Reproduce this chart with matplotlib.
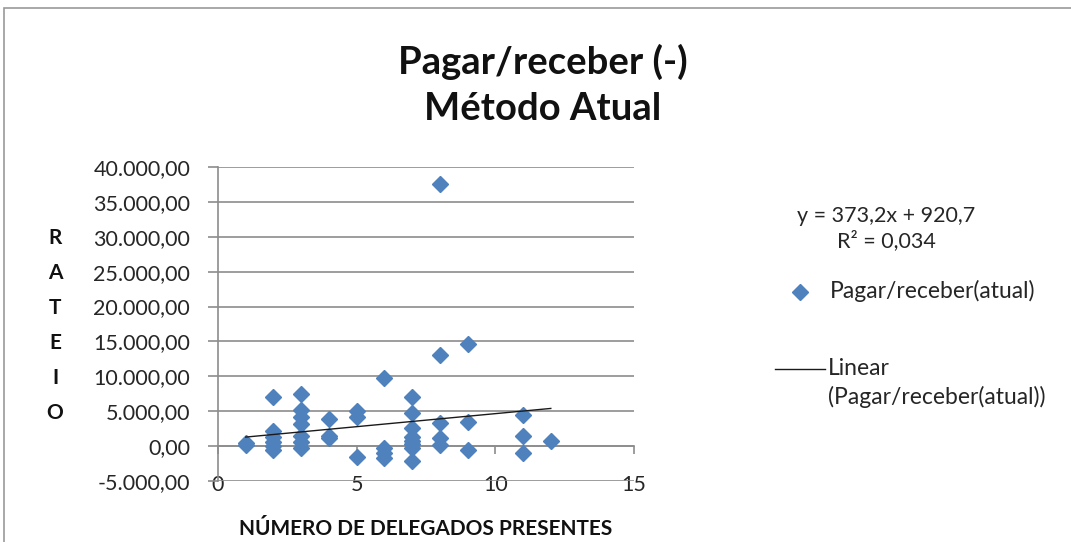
import matplotlib
matplotlib.use("Agg")
import matplotlib.pyplot as plt
from matplotlib.ticker import FuncFormatter
from matplotlib.lines import Line2D
from matplotlib.patches import Rectangle

# data (x = delegates present, y = rateio)
delegados = [1, 1,
             2, 2, 2, 2, 2, 2,
             3, 3, 3, 3, 3, 3, 3,
             4, 4, 4,
             5, 5, 5,
             6, 6, 6, 6,
             7, 7, 7, 7, 7, 7, 7, 7,
             8, 8, 8, 8, 8,
             9, 9, 9,
             11, 11, 11,
             12]
rateio = [500, 100,
          7000, 2100, 1300, 600, 0, -500,
          7500, 5200, 4200, 3200, 1400, 600, -300,
          3900, 1500, 1100,
          5000, 4200, -1600,
          9800, -300, -1000, -1700,
          7000, 4800, 2600, 1300, 700, 300, -200, -2100,
          37500, 13000, 3300, 1200, 200,
          14600, 3500, -500,
          4500, 1500, -1000,
          700]

# linear trend as reported in the chart
slope = 373.2
intercept = 920.7
r2 = 0.034

title = "Pagar/receber (-)\nMétodo Atual"
xlabel = "NÚMERO DE DELEGADOS PRESENTES"
ylabel = "RATEIO"
series_label = "Pagar/receber(atual)"
trend_label = "Linear\n(Pagar/receber(atual))"

blue = "#4F81BD"
grey = "#8C8C8C"
W, H = 1071, 542

plt.rcParams['font.family'] = ['Lato', 'DejaVu Sans']

fig = plt.figure(figsize=(W / 100, H / 100), dpi=100)
fig.patch.set_facecolor("white")
ax = fig.add_axes([218 / W, 1 - 481 / H, (634 - 218) / W, (481 - 167) / H])

ax.plot(delegados, rateio, linestyle="none", marker="D", markersize=8.5,
        color=blue, markeredgecolor=blue, zorder=3)

xs = [min(delegados), max(delegados)]
ax.plot(xs, [slope * x + intercept for x in xs], color="#1a1a1a", linewidth=1, zorder=4)

ax.set_xlim(0, 15)
ax.set_ylim(-5000, 40000)
ax.set_xticks([0, 5, 10, 15])
ax.set_yticks(range(-5000, 40001, 5000))

def br_fmt(v, pos):
    s = f"{v:,.2f}"
    return s.replace(",", "X").replace(".", ",").replace("X", ".")

ax.yaxis.set_major_formatter(FuncFormatter(br_fmt))

# horizontal grid only
ax.yaxis.grid(True, color=grey, linewidth=1.2)
ax.set_axisbelow(True)
for s in ["top", "right", "bottom"]:
    ax.spines[s].set_visible(False)
ax.spines["left"].set_color(grey)
ax.spines["left"].set_linewidth(1.2)

ax.tick_params(axis="y", direction="out", length=7, width=1.2, color=grey,
               labelsize=15.5, labelcolor="#262626", pad=13)
ax.tick_params(axis="x", length=0, labelsize=15.5, labelcolor="#262626", pad=-4)

# horizontal axis line crosses at y = 0
sec = ax.secondary_xaxis(0, transform=ax.transData)
sec.set_xticks([0, 5, 10, 15])
sec.tick_params(axis="x", direction="out", length=6, width=1.2, color=grey,
                labelbottom=False)
sec.spines["bottom"].set_color(grey)
sec.spines["bottom"].set_linewidth(1.2)

ax.set_xlabel(xlabel, fontsize=15, fontweight="bold", color="#111111")
ax.xaxis.set_label_coords(0.5, -0.12)

# stacked vertical y label
for i, ch in enumerate(ylabel):
    fig.text(55 / W, 1 - (238 + 35 * i) / H, ch, ha="center", va="center",
             fontsize=15, fontweight="bold", color="#111111")

fig.text(543 / W, 1 - 85 / H, title, ha="center", va="center",
         multialignment="center", fontsize=27.5, fontweight="bold",
         color="#111111", linespacing=1.45)

# legend block on the right
eq = f"y = {slope:.1f}x + {intercept:.1f}".replace(".", ",")
r2_txt = f"R² = {r2:.3f}".replace(".", ",")
fig.text(886 / W, 1 - 229 / H, eq + "\n" + r2_txt, ha="center", va="center",
         multialignment="center", fontsize=15.5, color="#262626", linespacing=1.25)

fig.add_artist(Line2D([800 / W], [1 - 292 / H], marker="D", markersize=8,
                      color=blue, linestyle="none", transform=fig.transFigure))
fig.text(830 / W, 1 - 291 / H, series_label, ha="left", va="center",
         fontsize=16.5, color="#262626")

fig.add_artist(Line2D([775 / W, 825 / W], [1 - 369 / H, 1 - 369 / H],
                      color="#1a1a1a", linewidth=1, transform=fig.transFigure))
fig.text(828 / W, 1 - 383 / H, trend_label, ha="left", va="center",
         fontsize=16.5, color="#262626", linespacing=1.35)

# chart frame (only left and top edges visible in the crop)
fig.add_artist(Rectangle((4 / W, -0.1), 1.2, 1 - 8 / H + 0.1, fill=False,
                         edgecolor="#999999", linewidth=1.2,
                         transform=fig.transFigure))

fig.savefig("out.png", dpi=100)
